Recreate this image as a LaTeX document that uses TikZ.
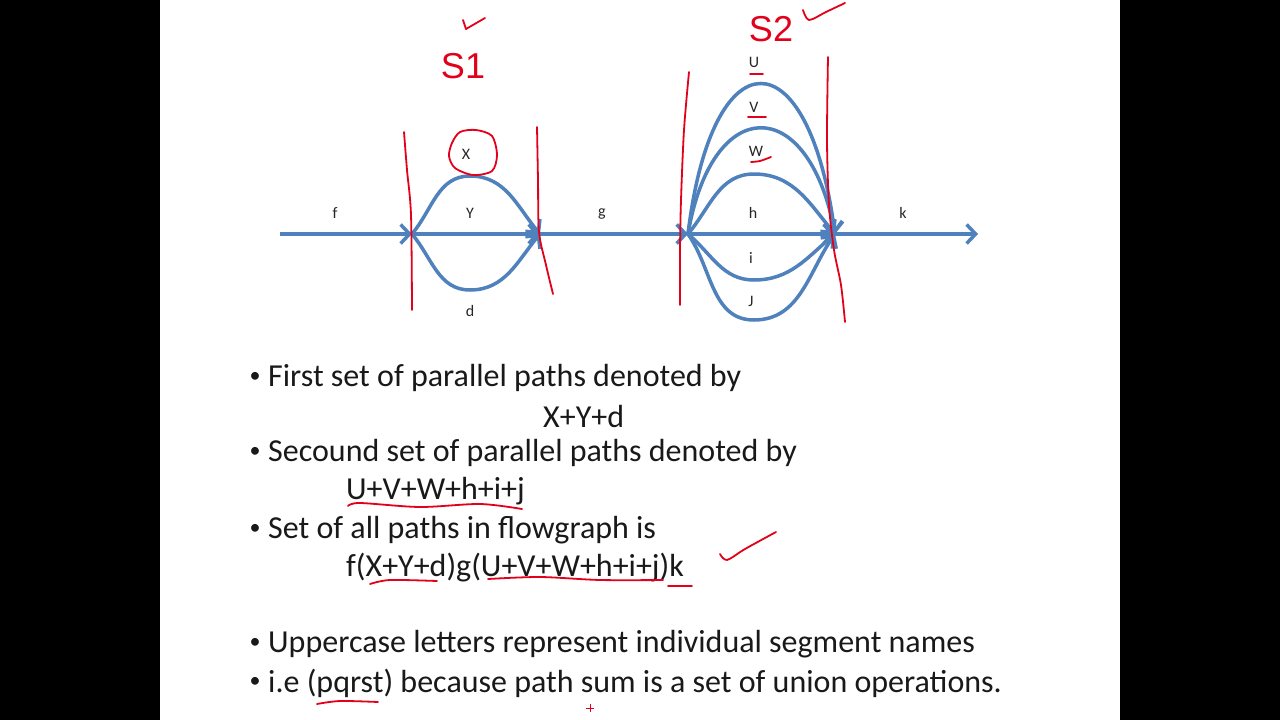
\documentclass[tikz,border=0pt]{standalone}
\usepackage{fontspec}
\setmainfont{Carlito}
\newfontfamily\handfont{Liberation Sans}
\usetikzlibrary{arrows.meta,positioning}
\definecolor{flowblue}{HTML}{4F81BD}
\definecolor{inkred}{HTML}{E2001A}
\tikzset{
    flow/.style={
    draw=flowblue,line width=3.5pt,-{Straight Barb[length=9pt,width=19pt]}
    },
    seglabel/.style={
    inner sep=0pt,font=\fontsize{16}{18}\selectfont,text=black!85
    },
    ink/.style={
    draw=inkred,line width=1.8pt,line cap=round,line join=round
    },
    handtext/.style={
    inner sep=0pt,text=inkred,font=\handfont\fontsize{36}{40}\selectfont
    },
    bulletline/.style={
    anchor=west,inner sep=0pt,text=black!90,font=\fontsize{32}{36}\selectfont
    },
    bulletdot/.style={
    inner sep=0pt,text=black!90,font=\fontsize{22}{26}\selectfont
    },
}

\begin{document}
\begin{tikzpicture}[x=1pt,y=-1pt]
   % slide and side bars
   \fill[black] (0,0) rectangle (1280,720);
   \fill[white] (160,0) rectangle (1120,720);
   \useasboundingbox (0,0) rectangle (1280,720);

   \coordinate (start) at (280,234);
   \coordinate (n1) at (412,234);
   \coordinate (n2) at (540,234);
   \coordinate (n3) at (688,234);
   \coordinate (n4) at (835,234);
   \coordinate (end) at (978,234);

   %segment labels
   \node[seglabel] (f) at (335,213) {f};
   \node[seglabel] (X) at (466,154) {X};
   \node[seglabel] (Y) at (470,213) {Y};
   \node[seglabel] (d) at (470,311) {d};
   \node[seglabel] (g) at (602,214) {g};
   \node[seglabel] (U) at (754,62) {U};
   \node[seglabel] (V) at (754,107) {V};
   \node[seglabel] (W) at (756,151) {W};
   \node[seglabel] (h) at (753,213) {h};
   \node[seglabel] (i) at (751,258) {i};
   \node[seglabel] (J) at (751,301) {J};
   \node[seglabel] (k) at (903,213) {k};

   %main line
   \draw[flow] (start) -- (n1);
   \draw[flow] (n1) -- (n2);
   \draw[flow] (n2) -- (n3);
   \draw[flow] (n3) -- (n4);
   \draw[flow] (n4) -- (end);

   %first set X Y d
   \draw[flow] (n1) to[out=50,in=180] (470,176) to[out=0,in=130] (n2);
   \draw[flow] (n1) to[out=-50,in=180] (470,290) to[out=0,in=-130] (n2);

   %second set U V W h i j
   \draw[flow] (n3) .. controls (712,34) and (808,34) .. (n4);
   \draw[flow] (n3) .. controls (712,93) and (808,93) .. (n4);
   \draw[flow] (n3) to[out=50,in=180] (754,174) to[out=0,in=130] (n4);
   \draw[flow] (n3) to[out=-40,in=180] (754,280) to[out=0,in=-140] (n4);
   \draw[flow] (n3) to[out=-55,in=180] (754,320) to[out=0,in=-125] (n4);

   %red marks on the flowgraph
   \draw[ink] plot[smooth] coordinates {(404,132) (407,170) (411,215) (412,310)};
   \draw[ink] plot[smooth] coordinates {(537,127) (538,180) (539,232) (546,265) (553,294)};
   \draw[ink] plot[smooth] coordinates {(689,72) (684,130) (681,200) (680,250) (680,305)};
   \draw[ink] plot[smooth] coordinates {(828,57) (827,140) (829,205) (834,250) (841,285) (845,322)};
   \draw[ink] plot[smooth cycle] coordinates {(452,143) (460,132) (476,130) (492,136) (497,155) (492,171) (473,175) (455,168) (449,156)};
   \draw[ink] (750,74) -- (763,74);
   \draw[ink] (748,117) -- (766,117);
   \draw[ink] plot[smooth] coordinates {(751,162) (760,161) (771,157)};
   \node[handtext] (S1) at (463,66) {S1};
   \node[handtext] (S2) at (771,29) {S2};
   \draw[ink] (463,20) -- (466,29) -- (485,18);
   \draw[ink] plot[smooth] coordinates {(803,10) (809,20) (826,12) (845,3)};

   %bullet text
   \node[bulletdot] (b1) at (255,377) {•};
   \node[bulletline] (t1) at (268,378) {First set of parallel paths denoted by};
   \node[bulletline] (t1a) at (543,416) {X+Y+d};
   \node[bulletdot] (b2) at (255,452) {•};
   \node[bulletline] (t2) at (268,453) {Secound set of parallel paths denoted by};
   \node[bulletline] (t2a) at (346,491) {U+V+W+h+i+j};
   \node[bulletdot] (b3) at (255,529) {•};
   \node[bulletline] (t3) at (268,530) {Set of all paths in flowgraph is};
   \node[bulletline] (t3a) at (346,568) {f(X+Y+d)g(U+V+W+h+i+j)k};
   \node[bulletdot] (b4) at (255,643) {•};
   \node[bulletline] (t4) at (268,644) {Uppercase letters represent individual segment names};
   \node[bulletdot] (b5) at (255,682) {•};
   \node[bulletline] (t5) at (268,683) {i.e (pqrst) because path sum is a set of union operations.};

   %red marks on the text
   \draw[ink] plot[smooth] coordinates {(348,506) (360,503) (420,507) (480,504) (522,509)};
   \draw[ink] plot[smooth] coordinates {(370,584) (390,580) (437,581)};
   \draw[ink] plot[smooth] coordinates {(488,579) (540,577) (600,580) (663,580)};
   \draw[ink] (668,586) -- (692,586);
   \draw[ink] plot[smooth] coordinates {(720,554) (727,560) (745,549) (776,532)};
   \draw[ink] plot[smooth] coordinates {(317,704) (340,701) (378,702)};
   \draw[inkred,line width=1pt] (586,708) -- (594,708) (590,704) -- (590,712);
\end{tikzpicture}
\end{document}
